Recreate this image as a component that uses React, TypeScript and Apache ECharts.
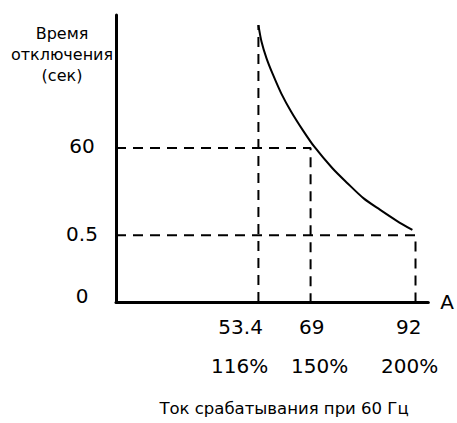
import React, { useEffect, useRef } from "react";
import * as echarts from "echarts";

// Schematic chart: both axes are non-linear in the original, so positions are on a 0..100 schematic scale.
const curveX = [45.6, 46.6, 48.2, 50.3, 52.9, 56.1, 59.8, 63.5, 69.3, 74.1, 79.3, 84.6, 89.9, 94.9];
const curveY = [96.5, 90.7, 84.9, 79.1, 72.7, 66.3, 59.9, 54.1, 46.6, 41.4, 36.1, 32.1, 28.3, 25.1];

const guideX = [45.6, 62.3, 95.9]; // 53.4 A, 69 A, 92 A
const guideY = [53.7, 23.3]; // 60 s, 0.5 s

const xTickLabels = ["53.4", "69", "92"];
const xTickLabelPos = [39.9, 62.7, 93.7];
const pctLabels = ["116%", "150%", "200%"];
const pctLabelPos = [39.6, 65.2, 94.0];

const yTickLabels = ["60", "0.5", "0"];
const yTickLabelPos = [54.4, 23.7, 2.1];

const yTitle = "Время\nотключения\n(сек)";
const xTitle = "Ток срабатывания при 60 Гц";
const xUnit = "A";

const FONT = "DejaVu Sans";

function lookup(pos: number[], labels: string[]) {
  return (v: number) => {
    const i = pos.findIndex((p) => Math.abs(p - v) < 0.05);
    return i >= 0 ? labels[i] : "";
  };
}

export default function App() {
  const ref = useRef<HTMLDivElement>(null);
  useEffect(() => {
    if (!ref.current) return;
    const chart = echarts.init(ref.current, null, { renderer: "svg" });
    const dash = { color: "#000", width: 2, type: [10, 7] as number[] };
    const option: any = {
      animation: false,
      backgroundColor: "#fff",
      grid: { left: 116, right: 25, top: 15, bottom: 121, containLabel: false },
      xAxis: [
        {
          type: "value",
          min: 0,
          max: 100,
          position: "bottom",
          name: xUnit,
          nameLocation: "end",
          nameGap: 12,
          nameTextStyle: { fontFamily: FONT, fontSize: 20, color: "#000", verticalAlign: "middle" },
          axisLine: { show: true, onZero: false, lineStyle: { color: "#000", width: 3 } },
          axisTick: { show: false },
          splitLine: { show: false },
          axisLabel: {
            customValues: xTickLabelPos,
            formatter: lookup(xTickLabelPos, xTickLabels),
            margin: 15,
            fontFamily: FONT,
            fontSize: 20,
            color: "#000",
          },
        },
        {
          type: "value",
          min: 0,
          max: 100,
          position: "bottom",
          axisLine: { show: false },
          axisTick: { show: false },
          splitLine: { show: false },
          axisLabel: {
            customValues: pctLabelPos,
            formatter: lookup(pctLabelPos, pctLabels),
            margin: 54,
            fontFamily: FONT,
            fontSize: 20,
            color: "#000",
          },
        },
      ],
      yAxis: {
        type: "value",
        min: 0,
        max: 100,
        axisLine: { show: true, onZero: false, lineStyle: { color: "#000", width: 3 } },
        axisTick: { show: false },
        splitLine: { show: false },
        axisLabel: {
          customValues: yTickLabelPos,
          formatter: lookup(yTickLabelPos, yTickLabels),
          align: "center",
          margin: 34,
          fontFamily: FONT,
          fontSize: 20,
          color: "#000",
        },
      },
      graphic: [
        {
          type: "text",
          x: 62,
          y: 23,
          style: {
            text: yTitle,
            textAlign: "center",
            textVerticalAlign: "top",
            fontFamily: FONT,
            fontSize: 16,
            lineHeight: 21,
            fill: "#000",
          },
        },
        {
          type: "text",
          x: 284,
          y: 408,
          style: {
            text: xTitle,
            textAlign: "center",
            textVerticalAlign: "middle",
            fontFamily: FONT,
            fontSize: 16.5,
            fill: "#000",
          },
        },
      ],
      series: [
        {
          type: "line",
          data: [
            [guideX[0], 0],
            [guideX[0], curveY[0]],
          ],
          symbol: "none",
          lineStyle: dash,
          silent: true,
        },
        {
          type: "line",
          data: [
            [0, guideY[0]],
            [guideX[1], guideY[0]],
            [guideX[1], 0],
          ],
          symbol: "none",
          lineStyle: dash,
          silent: true,
        },
        {
          type: "line",
          data: [
            [0, guideY[1]],
            [guideX[2], guideY[1]],
            [guideX[2], 0],
          ],
          symbol: "none",
          lineStyle: dash,
          silent: true,
        },
        {
          type: "line",
          data: curveX.map((x, i) => [x, curveY[i]]),
          smooth: 0.3,
          symbol: "none",
          lineStyle: { color: "#000", width: 2 },
          z: 5,
          silent: true,
        },
      ],
    };
    chart.setOption(option);
    return () => chart.dispose();
  }, []);
  return (
    <div
      ref={ref}
      style={{ position: "absolute", left: 0, top: 0, width: 457, height: 423 }}
    />
  );
}
